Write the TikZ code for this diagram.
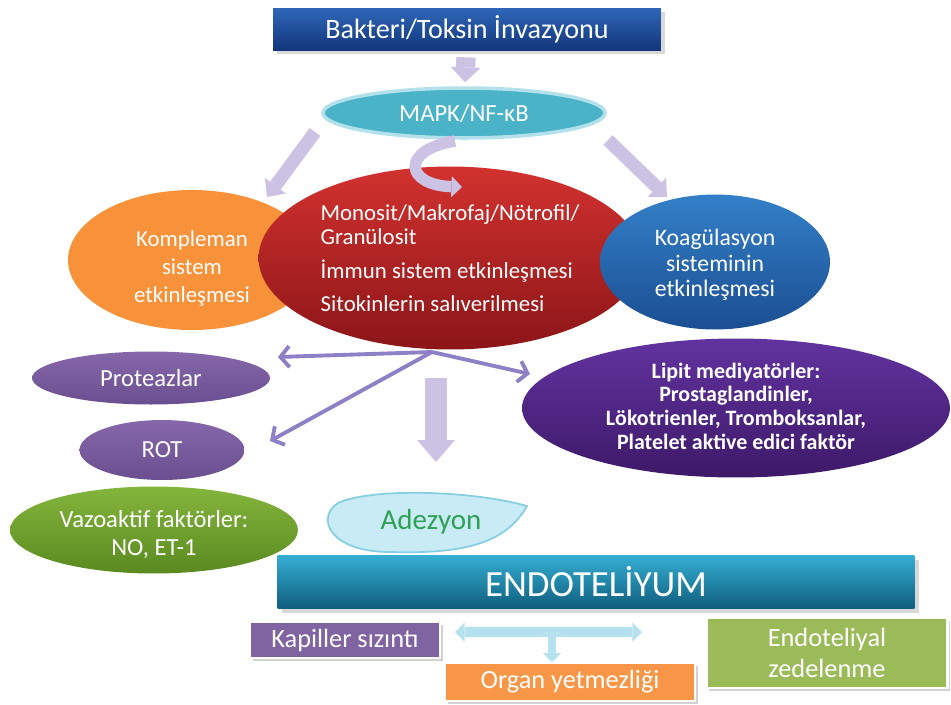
\documentclass[tikz,border=0pt]{standalone}
\usepackage{fontspec}
\setmainfont{Carlito}
\usetikzlibrary{positioning, arrows.meta, shapes, shadows}

\definecolor{invtop}{HTML}{2F66B8}
\definecolor{invbot}{HTML}{12377C}
\definecolor{mapkcyan}{HTML}{4BB3C8}
\definecolor{mapkrim}{HTML}{B2E1EC}
\definecolor{cellred}{HTML}{D2322F}
\definecolor{celldark}{HTML}{8C1518}
\definecolor{kompor}{HTML}{F7923A}
\definecolor{koagblue}{HTML}{3380C8}
\definecolor{koagdark}{HTML}{1B4E92}
\definecolor{protpurp}{HTML}{8668AA}
\definecolor{protdark}{HTML}{6A4E90}
\definecolor{lipitpurp}{HTML}{6233A0}
\definecolor{lipitdark}{HTML}{3D1968}
\definecolor{vazogreen}{HTML}{84B53C}
\definecolor{vazodark}{HTML}{5A8A20}
\definecolor{adezfill}{HTML}{C8EBF5}
\definecolor{adezrim}{HTML}{86CFE2}
\definecolor{adezgreen}{HTML}{2EA155}
\definecolor{endotop}{HTML}{35AED2}
\definecolor{endobot}{HTML}{0F5E7E}
\definecolor{kappurp}{HTML}{8064A2}
\definecolor{organor}{HTML}{F79646}
\definecolor{zedgreen}{HTML}{9BBB59}
\definecolor{lav}{HTML}{CBC2E4}
\definecolor{lavdark}{HTML}{8E80C6}
\definecolor{palecyan}{HTML}{B6E2F0}

\newcommand{\fsz}[2]{\fontsize{#1}{#2}\selectfont}
% text block of no size, lowered by the optional amount
\newcommand{\inell}[3][-6pt]{\makebox[0pt]{\smash{\raisebox{#1}{\begin{tabular}{@{}#2@{}}#3\end{tabular}}}}}

\begin{document}
\begin{tikzpicture}[x=0.02cm, y=-0.02cm,
    ell/.style={ellipse, inner sep=0pt, text=white},
    box/.style={rectangle, inner sep=0pt, text=white},
    framed/.style={draw=white, line width=1.6pt, drop shadow={opacity=0.35, shadow xshift=1.5pt, shadow yshift=-1.5pt}},
    fatarrow/.style={draw=lav, line width=7.5pt, -{Triangle[width=15pt, length=8pt, line width=0pt]}},
    thinarrow/.style={draw=lavdark, line width=2.2pt, -{Straight Barb[length=5pt, width=12pt]}},
    palearrow/.style={draw=palecyan, line width=5.5pt}
]
    \fill[white] (0,0) rectangle (951,704);
    \useasboundingbox (0,0) rectangle (951,704);

    % Top of the cascade
    \node[box, top color=invtop, bottom color=invbot, minimum width=7.76cm, minimum height=0.84cm,
          drop shadow={opacity=0.3}, font=\fsz{16}{19}] (inv) at (467,29) {Bakteri/Toksin İnvazyonu};
    \node[ell, fill=mapkcyan, draw=mapkrim, line width=2pt, minimum width=5.64cm, minimum height=1cm,
          font=\fsz{14}{16}] (mapk) at (464,113) {MAPK/NF-κB};

    % Activated systems
    \node[ell, fill=kompor, minimum width=4.96cm, minimum height=2.8cm, font=\fsz{13}{16}] (komp) at (192,260)
        {\inell[-8pt]{c}{Kompleman\\sistem\\etkinleşmesi}};
    \node[ell, top color=cellred, bottom color=celldark, minimum width=7.66cm, minimum height=3.66cm,
          font=\fsz{13}{14}] (cell) at (450,258)
        {\inell[-4.5pt]{l}{Monosit/Makrofaj/Nötrofil/\\Granülosit\\[4.5pt]İmmun sistem etkinleşmesi\\[4.5pt]Sitokinlerin salıverilmesi}};
    \node[ell, top color=koagblue, bottom color=koagdark, minimum width=4.6cm, minimum height=2.7cm,
          font=\fsz{13.5}{14.5}] (koag) at (715,262) {\inell{c}{Koagülasyon\\sisteminin\\etkinleşmesi}};

    % Mediators
    \node[ell, top color=protpurp, bottom color=protdark, minimum width=4.76cm, minimum height=1.06cm,
          font=\fsz{14}{16}] (prot) at (151,378) {Proteazlar};
    \node[ell, top color=protpurp, bottom color=protdark, minimum width=3.3cm, minimum height=1.2cm,
          font=\fsz{14}{16}] (rot) at (162,450) {ROT};
    \node[ell, top color=lipitpurp, bottom color=lipitdark, minimum width=8.56cm, minimum height=2.78cm,
          font=\bfseries\fsz{12.5}{13.5}] (lipit) at (736,408)
        {\inell[-3.5pt]{c}{Lipit mediyatörler:\\Prostaglandinler,\\Lökotrienler, Tromboksanlar,\\Platelet aktive edici faktör}};
    \node[ell, top color=vazogreen, bottom color=vazodark, minimum width=5.76cm, minimum height=1.74cm,
          font=\fsz{14}{15.5}] (vazo) at (154,530) {\inell[-7pt]{c}{Vazoaktif faktörler:\\NO, ET-1}};

    % Adhesion
    \filldraw[fill=adezfill, draw=adezrim, line width=1pt] (527,506) .. controls (470,490) and (370,488) .. (338,503)
        .. controls (315,518) and (330,552) .. (390,552) .. controls (460,554) and (505,545) .. (527,506) -- cycle;
    \node[font=\fsz{16.5}{18}, text=adezgreen] (adez) at (431,522) {Adezyon};

    % Endothelium and outcomes
    \node[box, top color=endotop, bottom color=endobot, minimum width=12.74cm, minimum height=1.06cm,
          drop shadow={opacity=0.3}, font=\fsz{21}{24}] (endo) at (596,582) {ENDOTELİYUM};
    \node[box, fill=kappurp, framed, minimum width=3.8cm, minimum height=0.72cm, font=\fsz{15}{17}] (kap) at (345,640) {Kapiller sızıntı};
    \node[box, fill=organor, framed, minimum width=5cm, minimum height=0.76cm, font=\fsz{15}{17}] (organ) at (570,682) {Organ yetmezliği};
    \node[box, fill=zedgreen, framed, minimum width=4.82cm, minimum height=1.4cm, align=center,
          font=\fsz{15}{18}] (zed) at (827,653) {Endoteliyal\\zedelenme};

    % Arrow end points
    \coordinate (lfrom) at (315,132);
    \coordinate (lto) at (267,197);
    \coordinate (rfrom) at (608,140);
    \coordinate (rto) at (667,197);
    \coordinate (cfrom) at (455,141);
    \coordinate (cto) at (462,187);
    \coordinate (fan) at (432,352);
    \coordinate (toprot) at (278,357);
    \coordinate (torot) at (270,441);
    \coordinate (tolipit) at (530,374);
    \coordinate (dfrom) at (436,378);
    \coordinate (dto) at (436,462);
    \coordinate (hleft) at (455,632);
    \coordinate (hright) at (642,632);
    \coordinate (hmid) at (552,637);
    \coordinate (hdown) at (552,662);

    % Arrows
    \draw[fatarrow, line width=11pt, -{Triangle[width=17pt, length=8.5pt, line width=0pt]},
          shorten <=0.14cm, shorten >=0.08cm] (inv) -- (mapk);
    \draw[fatarrow] (lfrom) -- (lto);
    \draw[fatarrow] (rfrom) -- (rto);
    \draw[fatarrow, line width=6.5pt, -{Triangle[width=12pt, length=6pt, line width=0pt]}]
        (cfrom) .. controls (400,150) and (405,185) .. (cto);
    \draw[thinarrow] (fan) -- (toprot);
    \draw[thinarrow] (fan) -- (torot);
    \draw[thinarrow] (fan) -- (tolipit);
    \draw[fatarrow, line width=12.5pt, -{Triangle[width=21.5pt, length=12.5pt, line width=0pt]}] (dfrom) -- (dto);
    \draw[palearrow, {Triangle[width=11pt, length=5.5pt, line width=0pt]}-{Triangle[width=11pt, length=5.5pt, line width=0pt]}]
        (hleft) -- (hright);
    \draw[palearrow, line width=4.5pt, -{Triangle[width=10pt, length=5pt, line width=0pt]}] (hmid) -- (hdown);
\end{tikzpicture}
\end{document}
